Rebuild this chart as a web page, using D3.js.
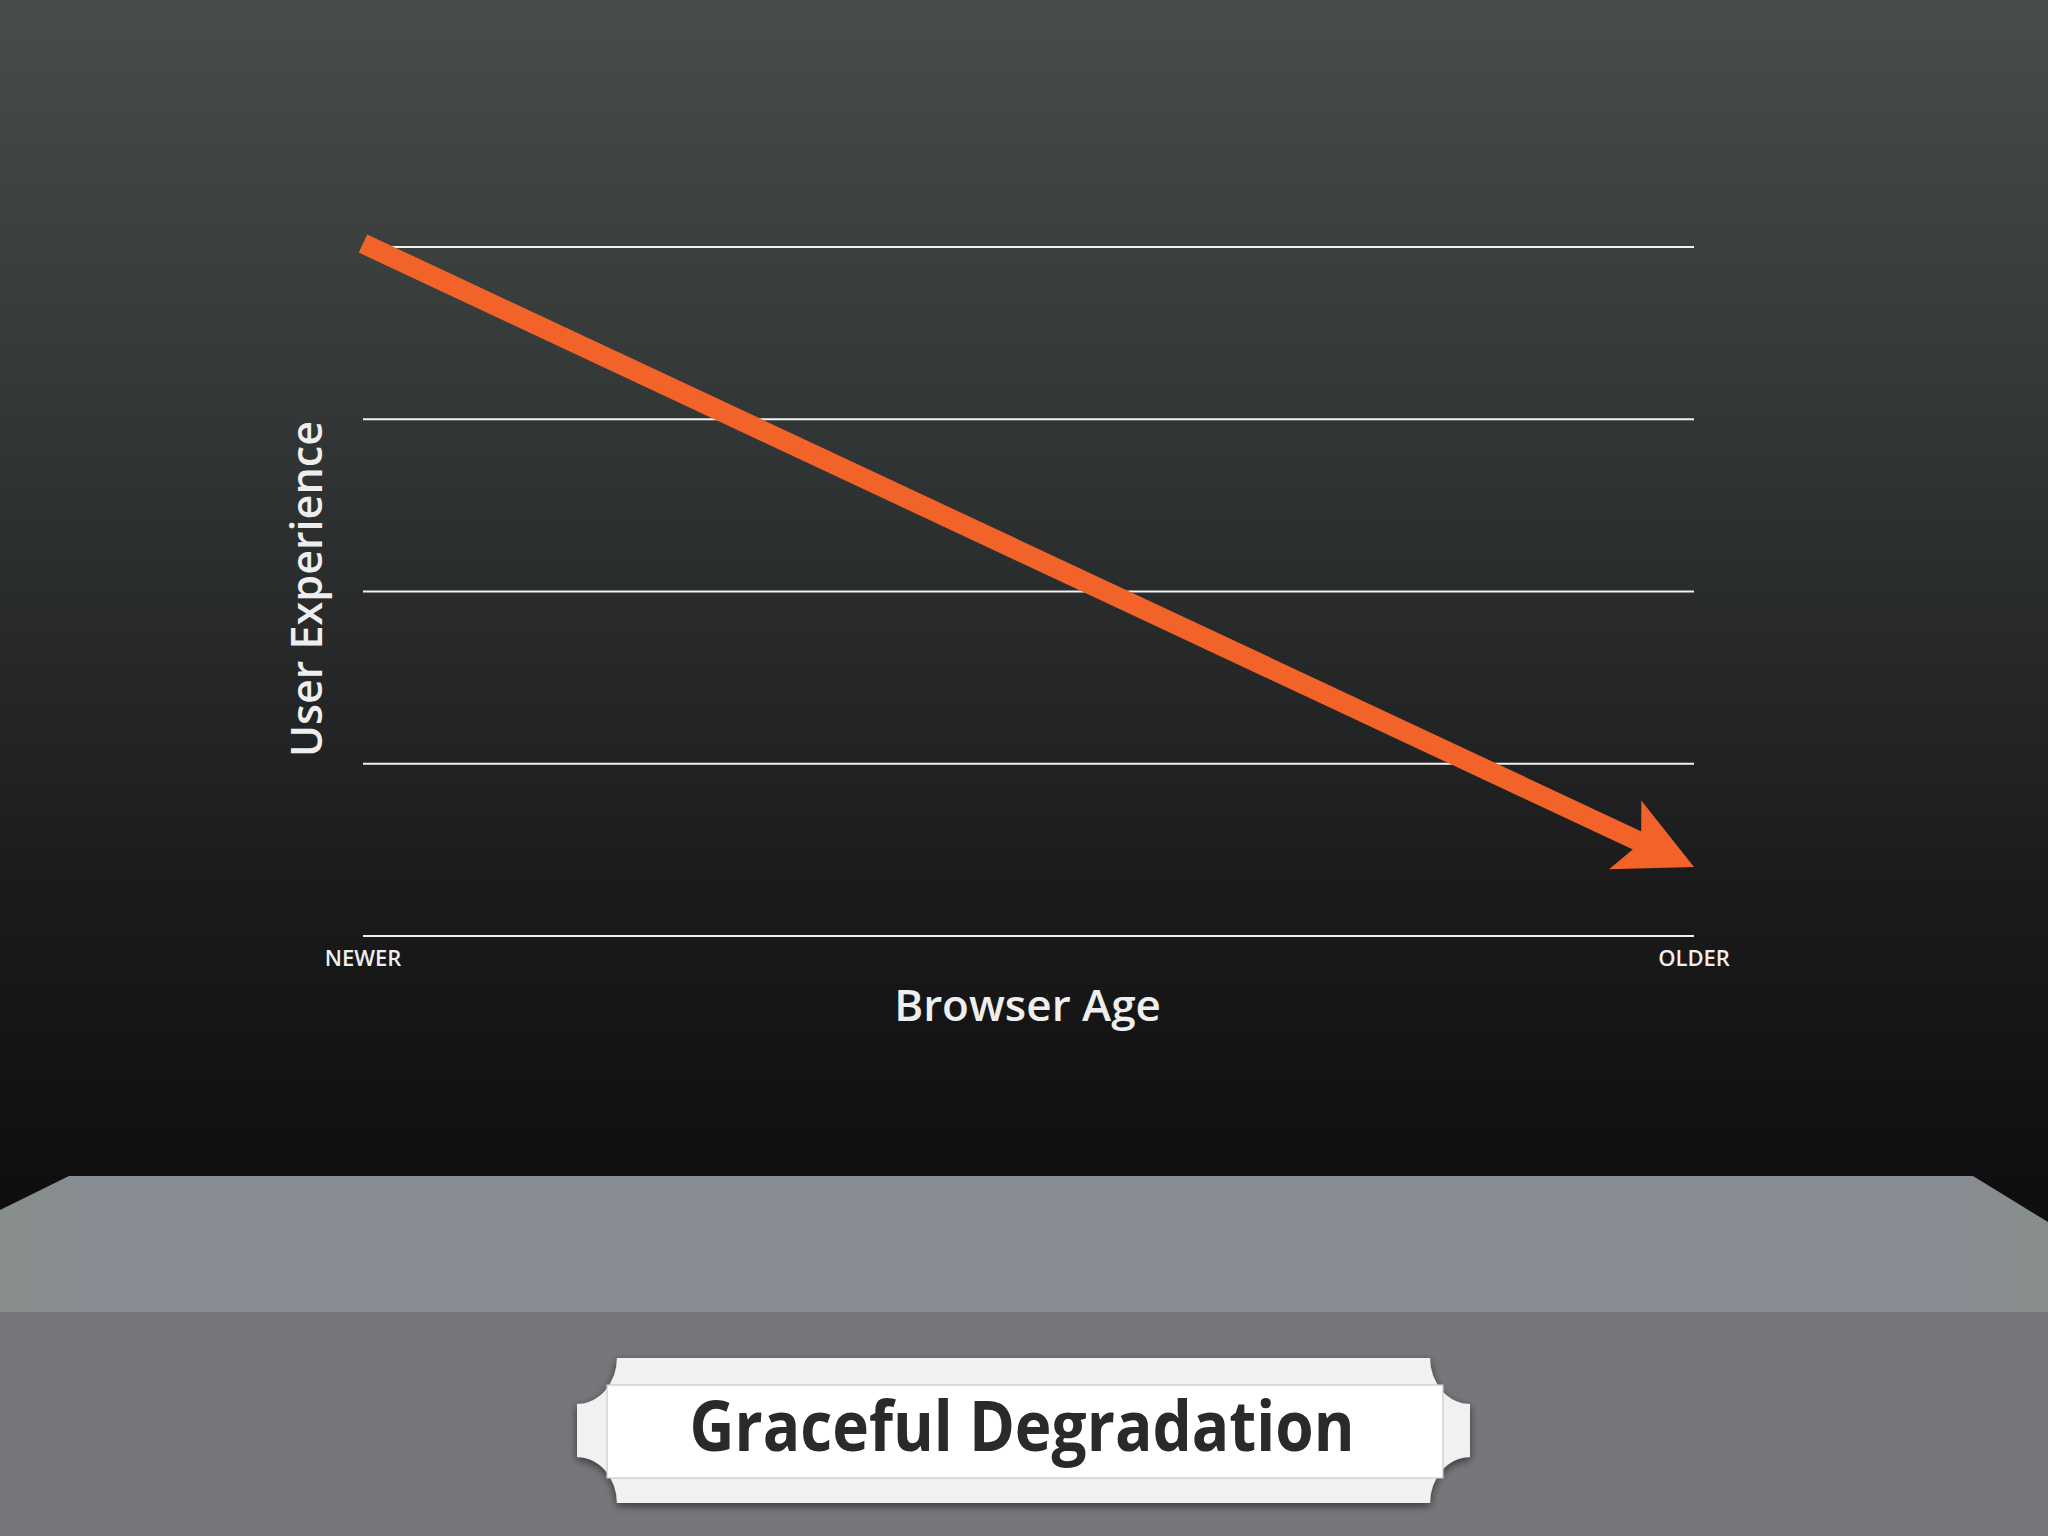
<!DOCTYPE html>
<html>
<head>
<meta charset="utf-8">
<script src="https://cdn.jsdelivr.net/npm/d3@7"></script>
<style>
  html, body { margin: 0; padding: 0; background: #0f0f10; }
  svg { display: block; }
</style>
</head>
<body>
<div id="chart"></div>
<script>
// values
let xTicks = [0, 1];
let xTickLabels = ["NEWER", "OLDER"];
let yGrid = [0, 25, 50, 75, 100];
let trendAge = [0, 1];
let trendUX = [100.5, 10];
let xTitle = "Browser Age";
let yTitle = "User Experience";
let slideTitle = "Graceful Degradation";

let width = 2048,
    height = 1536;

let plot = { left: 363, right: 1694, top: 247, bottom: 936 };

let x = d3.scaleLinear()
          .domain([0, 1])
          .range([plot.left, plot.right]);

let y = d3.scaleLinear()
          .domain([0, 100])
          .range([plot.bottom, plot.top]);

let svg = d3.select("#chart").append("svg")
            .attr("width", width)
            .attr("height", height);

let defs = svg.append("defs");

let bg = defs.append("linearGradient")
             .attr("id", "bg")
             .attr("x1", 0).attr("y1", 0)
             .attr("x2", 0).attr("y2", 1);
bg.append("stop").attr("offset", 0).attr("stop-color", "#474d4a");
bg.append("stop").attr("offset", 0.4).attr("stop-color", "#303333");
bg.append("stop").attr("offset", 0.75).attr("stop-color", "#1b1b1c");
bg.append("stop").attr("offset", 1).attr("stop-color", "#0f0f10");

let floorGrad = defs.append("linearGradient")
                    .attr("id", "floor")
                    .attr("x1", 0).attr("y1", 0)
                    .attr("x2", 1).attr("y2", 0);
floorGrad.append("stop").attr("offset", 0).attr("stop-color", "#878e8a");
floorGrad.append("stop").attr("offset", 0.045).attr("stop-color", "#888c93");
floorGrad.append("stop").attr("offset", 0.955).attr("stop-color", "#888c93");
floorGrad.append("stop").attr("offset", 1).attr("stop-color", "#878e8a");

let shadow = defs.append("filter")
                 .attr("id", "shadow")
                 .attr("x", "-10%").attr("y", "-30%")
                 .attr("width", "120%").attr("height", "160%");
shadow.append("feDropShadow")
      .attr("dx", 0).attr("dy", 3)
      .attr("stdDeviation", 4)
      .attr("flood-color", "#000")
      .attr("flood-opacity", 0.55);

// backdrop: dark wall, light floor, grey front
svg.append("rect")
   .attr("width", width)
   .attr("height", 1176)
   .attr("fill", "url(#bg)");

svg.append("rect")
   .attr("y", 1176)
   .attr("width", width)
   .attr("height", height - 1176)
   .attr("fill", "#0f0f10");

svg.append("path")
   .attr("d", "M0,1210 L69,1176 L1973,1176 L2048,1222 L2048,1312 L0,1312 Z")
   .attr("fill", "url(#floor)");

svg.append("rect")
   .attr("y", 1312)
   .attr("width", width)
   .attr("height", height - 1312)
   .attr("fill", "#78767a");

// grid lines
svg.append("g")
   .selectAll("line")
   .data(yGrid)
   .enter()
   .append("line")
   .attr("x1", x(0))
   .attr("x2", x(1))
   .attr("y1", d => y(d))
   .attr("y2", d => y(d))
   .attr("stroke", "#f2f2f2")
   .attr("stroke-width", 2);

// x tick labels
svg.append("g")
   .selectAll("text")
   .data(xTicks)
   .enter()
   .append("text")
   .attr("x", d => x(d))
   .attr("y", plot.bottom + 30)
   .attr("text-anchor", "middle")
   .attr("font-family", "Open Sans")
   .attr("font-weight", 600)
   .attr("font-size", 22)
   .attr("fill", "#eeeeee")
   .text((d, i) => xTickLabels[i]);

svg.append("text")
   .attr("x", (plot.left + plot.right) / 2 - 1)
   .attr("y", 1021)
   .attr("text-anchor", "middle")
   .attr("font-family", "Open Sans")
   .attr("font-weight", 600)
   .attr("font-size", 44)
   .attr("fill", "#eeeeee")
   .text(xTitle);

svg.append("text")
   .attr("transform", "translate(322,589) rotate(-90)")
   .attr("text-anchor", "middle")
   .attr("font-family", "Open Sans")
   .attr("font-weight", 600)
   .attr("font-size", 44)
   .attr("textLength", 336)
   .attr("lengthAdjust", "spacingAndGlyphs")
   .attr("fill", "#eeeeee")
   .text(yTitle);

// the trend arrow
let pts = trendAge.map((a, i) => [x(a), y(trendUX[i])]);
let tip = pts[pts.length - 1];
let prev = pts[pts.length - 2];
let ang = Math.atan2(tip[1] - prev[1], tip[0] - prev[0]);
let headLen = 63;
let toScreen = (u, v) => [
  tip[0] + u * Math.cos(ang) - v * Math.sin(ang),
  tip[1] + u * Math.sin(ang) + v * Math.cos(ang)
];
let shaftEnd = toScreen(-headLen + 2, 0);

svg.append("path")
   .datum([pts[0], shaftEnd])
   .attr("d", d3.line())
   .attr("fill", "none")
   .attr("stroke", "#f2632a")
   .attr("stroke-width", 20);

let head = [[0, 0], [-76, -38], [-63, -10], [-63, 10], [-76, 38]].map(p => toScreen(p[0], p[1]));
svg.append("path")
   .attr("d", "M" + head.join("L") + "Z")
   .attr("fill", "#f2632a");

// title plate
let px0 = 577, px1 = 1470, py0 = 1358, py1 = 1503, rx = 40, ry = 46;
let plate = svg.append("g");

plate.append("path")
     .attr("d", `M${px0 + rx},${py0} H${px1 - rx} A${rx},${ry} 0 0 0 ${px1},${py0 + ry}` +
                ` V${py1 - ry} A${rx},${ry} 0 0 0 ${px1 - rx},${py1}` +
                ` H${px0 + rx} A${rx},${ry} 0 0 0 ${px0},${py1 - ry}` +
                ` V${py0 + ry} A${rx},${ry} 0 0 0 ${px0 + rx},${py0} Z`)
     .attr("fill", "#f1f1f1")
     .attr("filter", "url(#shadow)");

plate.append("rect")
     .attr("x", 607)
     .attr("y", 1385)
     .attr("width", 1443 - 607)
     .attr("height", 1478 - 1385)
     .attr("fill", "#ffffff")
     .attr("stroke", "#c8c8c8")
     .attr("stroke-width", 1.2);

plate.append("text")
     .attr("x", 1022)
     .attr("y", 1451)
     .attr("text-anchor", "middle")
     .attr("font-family", "Open Sans")
     .attr("font-weight", 700)
     .attr("font-size", 69)
     .attr("textLength", 665)
     .attr("lengthAdjust", "spacingAndGlyphs")
     .attr("fill", "#2a2a2c")
     .text(slideTitle);
</script>
</body>
</html>
